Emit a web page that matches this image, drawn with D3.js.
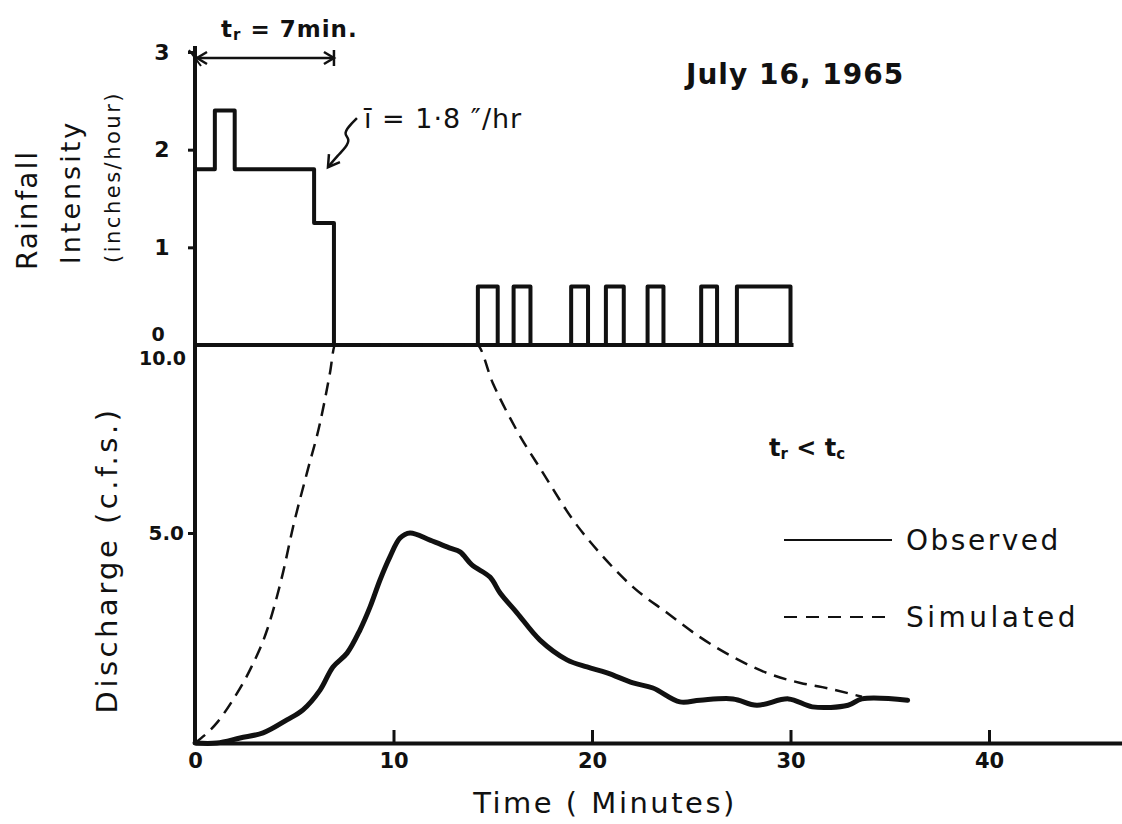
<!DOCTYPE html>
<html>
<head>
<meta charset="utf-8">
<script src="https://cdn.jsdelivr.net/npm/d3@7"></script>
<style>
  html, body { margin: 0; padding: 0; background: #fff; }
  svg { display: block; }
  text { font-family: "DejaVu Sans", sans-serif; fill: #111; }
</style>
</head>
<body>
<svg id="chart" width="1122" height="824"></svg>
<script>
// Rainfall hyetograph: blocks of constant intensity (minutes, inches/hour)
const rainStart     = [0,   1,   2,   6,    14.25, 16.05, 18.95, 20.7, 22.8, 25.5, 27.3];
const rainEnd       = [1,   2,   6,   7,    15.25, 16.9,  19.8,  21.6, 23.6, 26.3, 30];
const rainIntensity = [1.8, 2.4, 1.8, 1.25, 0.6,   0.6,   0.6,   0.6,  0.6,  0.6,  0.6];
const rainRecordEnd = 30;

// Observed runoff hydrograph (minutes, c.f.s.)
const obsTime = [0, 1.1, 2.27, 3.43, 4.63, 5.44, 6.3, 6.95, 7.66, 8.31, 8.82, 9.32, 9.82, 10.33, 10.83,
                 11.84, 12.85, 13.35, 13.95, 14.86, 15.37, 16.22, 17.38, 18.74, 19.75, 20.76, 22.07,
                 23.07, 24.43, 25.44, 27.1, 28.3, 29.9, 31.1, 32.9, 33.6, 35.9];
const obsFlow = [0, 0, 0.12, 0.24, 0.55, 0.79, 1.26, 1.81, 2.14, 2.69, 3.24, 3.88, 4.43, 4.88, 5.0,
                 4.83, 4.64, 4.55, 4.24, 3.95, 3.57, 3.1, 2.45, 1.98, 1.81, 1.67, 1.43,
                 1.31, 0.98, 1.02, 1.05, 0.9, 1.05, 0.86, 0.9, 1.05, 1.02];

// Simulated runoff hydrograph (minutes, c.f.s.)
const simTime = [0, 1.1, 1.9, 2.77, 3.63, 4.43, 4.94, 5.64, 6.3, 6.8, 7.05, 10, 14.2,
                 15.0, 16.2, 17.53, 19.04, 20.4, 22.07, 23.78, 25.44, 27.1, 28.8, 30.5, 31.6, 33.6];
const simFlow = [0, 0.48, 1.02, 1.74, 2.69, 4.05, 5.16, 6.6, 7.93, 9.26, 10, 10, 10,
                 8.99, 7.74, 6.6, 5.35, 4.52, 3.71, 3.1, 2.52, 2.05, 1.67, 1.43, 1.33, 1.1];

// Axis ticks and labels
const timeTicks = [0, 10, 20, 30, 40];
const rainTicks = [0, 1, 2, 3];
const flowTicks = [5, 10];
const flowTickLabels = ["5.0", "10.0"];

// Annotations
const rainDuration = 7;      // t_r, minutes
const meanIntensity = 1.8;   // inches/hour

const svg = d3.select("#chart");
const ink = "#111";

// Shared time axis, separate vertical scales for rainfall (top) and discharge (bottom)
const x = d3.scaleLinear().domain([0, 46.7]).range([195, 1122]);
const yRain = d3.scaleLinear().domain([0, 3]).range([345, 52]);
const yFlow = d3.scaleLinear().domain([0, 5, 10]).range([743, 533, 345]);

// ---------- Rainfall panel ----------
const gRain = svg.append("g");

// vertical intensity axis
const rainAxis = d3.axisLeft(yRain).tickValues(rainTicks).tickSize(7).tickPadding(20)
  .tickFormat(d3.format("d"));
gRain.append("g").attr("transform", `translate(${x(0)},0)`).call(rainAxis)
  .call(g => {
    g.select(".domain").attr("d", `M0,${yRain(0)}V${yRain(3) - 6}`)
      .attr("stroke", ink).attr("stroke-width", 4);
    g.selectAll(".tick line").attr("stroke", ink).attr("stroke-width", 3);
    g.selectAll(".tick text").attr("font-size", 22).attr("font-weight", "bold")
      .attr("fill", ink).attr("text-anchor", "middle").attr("dx", -6);
    g.selectAll(".tick").filter(d => d === 0).select("text")
      .attr("font-size", 19).attr("dy", "-0.25em").attr("dx", -10);
    g.selectAll(".tick").filter(d => d === 0).select("line").remove();
  });

// baseline of the rainfall record
gRain.append("line")
  .attr("x1", x(0)).attr("x2", x(rainRecordEnd) + 3)
  .attr("y1", yRain(0)).attr("y2", yRain(0))
  .attr("stroke", ink).attr("stroke-width", 4);

// hyetograph outline as one stepped polyline
const hyeto = [[0, 0]];
let prevEnd = 0;
rainStart.forEach((s, i) => {
  if (s > prevEnd) { hyeto.push([prevEnd, 0]); hyeto.push([s, 0]); }
  hyeto.push([s, rainIntensity[i]]);
  hyeto.push([rainEnd[i], rainIntensity[i]]);
  prevEnd = rainEnd[i];
});
hyeto.push([prevEnd, 0]);
gRain.append("path")
  .attr("d", d3.line().x(d => x(d[0])).y(d => yRain(d[1]))(hyeto))
  .attr("fill", "none").attr("stroke", ink).attr("stroke-width", 4)
  .attr("stroke-linejoin", "round");

// axis title, three stacked rotated lines
const rainTitle = gRain.append("g");
[["Rainfall", 37, 210, 28, 2], ["Intensity", 80, 192, 27, 3], ["(inches/hour)", 120, 177, 21, 2.5]]
  .forEach(([t, cx, cy, fs, ls]) => {
    rainTitle.append("text").text(t)
      .attr("transform", `translate(${cx},${cy}) rotate(-90)`)
      .attr("text-anchor", "middle").attr("font-size", fs).attr("letter-spacing", ls);
  });

// t_r duration arrow
const arrowY = 58;
const ax0 = x(0), ax1 = x(rainDuration);
const gArrow = gRain.append("g").attr("stroke", ink).attr("fill", "none").attr("stroke-width", 2.5);
gArrow.append("line").attr("x1", ax0 + 2).attr("x2", ax1).attr("y1", arrowY).attr("y2", arrowY);
gArrow.append("path").attr("d", `M${ax0 + 12},${arrowY - 6}L${ax0 + 2},${arrowY}L${ax0 + 12},${arrowY + 6}`);
gArrow.append("path").attr("d", `M${ax1 - 10},${arrowY - 6}L${ax1},${arrowY}L${ax1 - 10},${arrowY + 6}`);
gArrow.append("line").attr("x1", ax1).attr("x2", ax1).attr("y1", arrowY - 8).attr("y2", arrowY + 8);
gArrow.append("line").attr("x1", ax0 - 6).attr("x2", ax0 + 6).attr("y1", arrowY - 8).attr("y2", arrowY + 8)
  .attr("stroke-width", 2);

const trLabel = gRain.append("text").attr("x", 221).attr("y", 37).attr("font-size", 23)
  .attr("font-weight", "bold").attr("letter-spacing", 1);
trLabel.append("tspan").text("t");
trLabel.append("tspan").text("r").attr("font-size", 15).attr("dy", 3);
trLabel.append("tspan").text(` = ${rainDuration}min.`).attr("dy", -3);

// mean intensity note with squiggly pointer
const px = x(rainDuration) - 6, py = yRain(meanIntensity) - 2;
gRain.append("path")
  .attr("d", d3.line().curve(d3.curveBasis)([
    [px + 29, py - 49], [px + 20, py - 40], [px + 16, py - 33], [px + 22, py - 28],
    [px + 18, py - 20], [px + 10, py - 12], [px, py]
  ]))
  .attr("fill", "none").attr("stroke", ink).attr("stroke-width", 2.5);
gRain.append("path")
  .attr("d", `M${px + 1},${py - 13}L${px},${py}L${px + 12},${py - 5}`)
  .attr("fill", "none").attr("stroke", ink).attr("stroke-width", 2.5);
gRain.append("text").attr("x", 364).attr("y", 128).attr("font-size", 27)
  .attr("letter-spacing", 1)
  .text(`ī = ${String(meanIntensity).replace(".", "·")} ″/hr`);

// event date
svg.append("text").attr("x", 686).attr("y", 84).attr("font-size", 28)
  .attr("font-weight", "bold").attr("letter-spacing", 1)
  .text("July 16, 1965");

// ---------- Discharge panel ----------
const gFlow = svg.append("g");

const flowAxis = d3.axisLeft(yFlow).tickValues(flowTicks).tickSize(7).tickPadding(4)
  .tickFormat((d, i) => flowTickLabels[i]);
gFlow.append("g").attr("transform", `translate(${x(0)},0)`).call(flowAxis)
  .call(g => {
    g.select(".domain").attr("d", `M0,${yFlow(0)}V${yFlow(10)}`)
      .attr("stroke", ink).attr("stroke-width", 4);
    g.selectAll(".tick line").attr("stroke", ink).attr("stroke-width", 3);
    g.selectAll(".tick text").attr("font-size", 20).attr("font-weight", "bold").attr("fill", ink);
    g.selectAll(".tick").filter(d => d === 10).select("text")
      .attr("font-size", 19).attr("dy", "1.05em").attr("dx", 2);
    g.selectAll(".tick").filter(d => d === 10).select("line").remove();
  });

const timeAxis = d3.axisBottom(x).tickValues(timeTicks).tickSizeInner(-13).tickSizeOuter(0)
  .tickPadding(10).tickFormat(d3.format("d"));
gFlow.append("g").attr("transform", `translate(0,${yFlow(0)})`).call(timeAxis)
  .call(g => {
    g.select(".domain").attr("stroke", ink).attr("stroke-width", 4);
    g.selectAll(".tick line").attr("stroke", ink).attr("stroke-width", 3);
    g.selectAll(".tick text").attr("font-size", 21).attr("font-weight", "bold").attr("fill", ink);
    g.selectAll(".tick").filter(d => d === 0).select("line").remove();
  });

// simulated hydrograph (dashed)
gFlow.append("path")
  .attr("d", d3.line().curve(d3.curveMonotoneX)
    .x((d, i) => x(simTime[i])).y(d => yFlow(d))(simFlow))
  .attr("fill", "none").attr("stroke", ink).attr("stroke-width", 2.5)
  .attr("stroke-dasharray", "13,8");

// observed hydrograph (solid)
gFlow.append("path")
  .attr("d", d3.line().curve(d3.curveCatmullRom.alpha(0.5))
    .x((d, i) => x(obsTime[i])).y(d => yFlow(d))(obsFlow))
  .attr("fill", "none").attr("stroke", ink).attr("stroke-width", 5)
  .attr("stroke-linejoin", "round").attr("stroke-linecap", "round");

// axis titles
gFlow.append("text").text("Discharge (c.f.s.)")
  .attr("transform", "translate(117,560) rotate(-90)")
  .attr("text-anchor", "middle").attr("font-size", 29).attr("letter-spacing", 3.5);
gFlow.append("text").text("Time ( Minutes)")
  .attr("x", 605).attr("y", 813)
  .attr("text-anchor", "middle").attr("font-size", 29).attr("letter-spacing", 2.5);

// t_r < t_c note
const note = gFlow.append("text").attr("x", 769).attr("y", 456).attr("font-size", 24)
  .attr("font-weight", "bold");
note.append("tspan").text("t");
note.append("tspan").text("r").attr("font-size", 15).attr("dy", 3);
note.append("tspan").text(" < t").attr("dy", -3);
note.append("tspan").text("c").attr("font-size", 15).attr("dy", 3);

// legend
const legend = gFlow.append("g");
const legendItems = [
  { label: "Observed", y: 540, dash: null, spacing: 2.5 },
  { label: "Simulated", y: 617, dash: "13,9", spacing: 3.5 }
];
legendItems.forEach(item => {
  legend.append("line").attr("x1", 784).attr("x2", 892).attr("y1", item.y).attr("y2", item.y)
    .attr("stroke", ink).attr("stroke-width", 2.2).attr("stroke-dasharray", item.dash);
  legend.append("text").attr("x", 906).attr("y", item.y).attr("dy", "0.36em")
    .attr("font-size", 28).attr("letter-spacing", item.spacing).text(item.label);
});
</script>
</body>
</html>
